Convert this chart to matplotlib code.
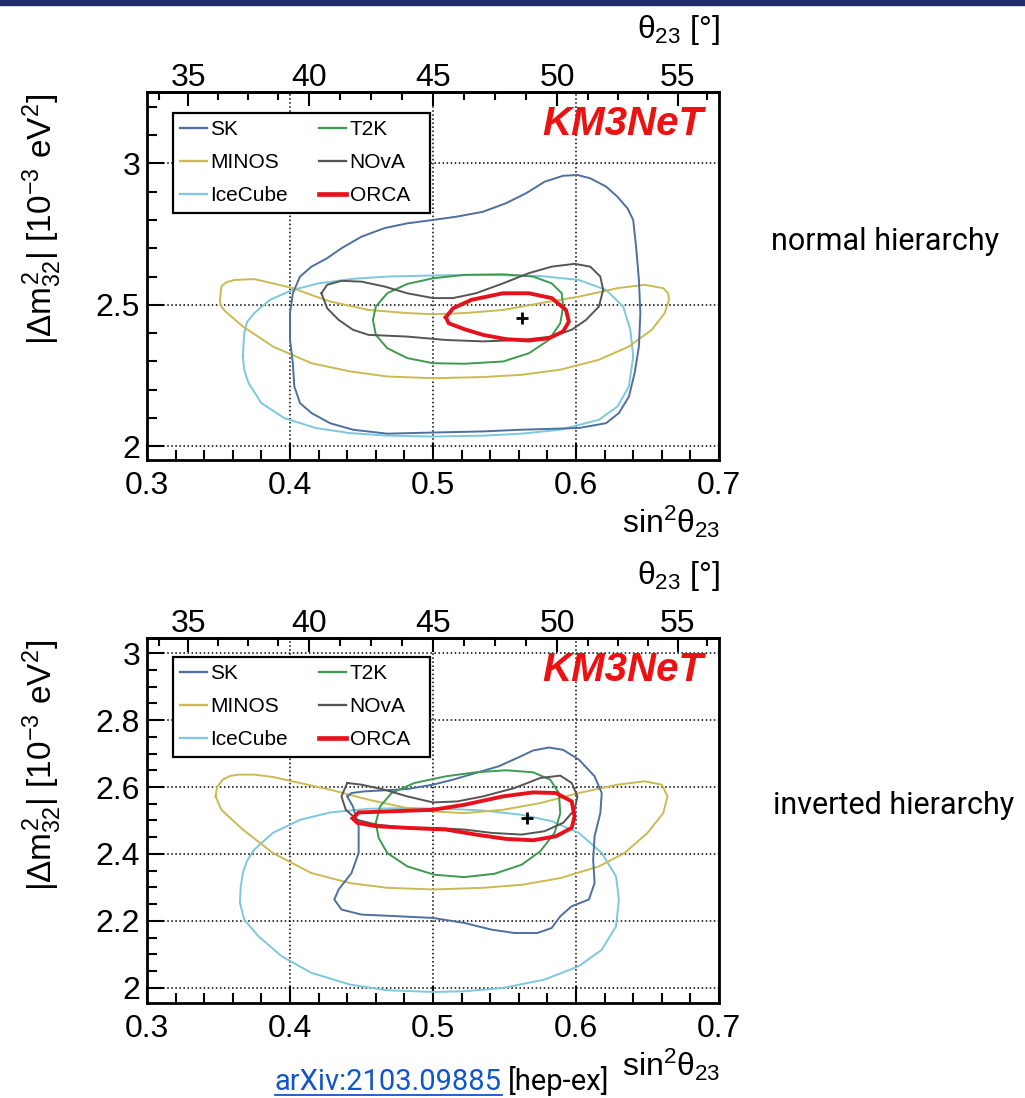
import numpy as np
import matplotlib
matplotlib.use('Agg')
import matplotlib.pyplot as plt
from matplotlib.lines import Line2D
from matplotlib.patches import Rectangle
from matplotlib.ticker import FixedLocator, MultipleLocator, FormatStrFormatter

plt.rcParams['font.family'] = 'Liberation Sans'
plt.rcParams['mathtext.fontset'] = 'custom'
plt.rcParams['mathtext.rm'] = 'Liberation Sans'
plt.rcParams['mathtext.it'] = 'Liberation Sans'
plt.rcParams['mathtext.bf'] = 'Liberation Sans:bold'

# ---- data: 90% CL contours, sin^2(theta23) vs |dm2_32| ----
names = ['SK', 'MINOS', 'IceCube', 'T2K', 'NOvA', 'ORCA']

# normal hierarchy
nh_sk_x = [0.400, 0.402, 0.407, 0.415, 0.426, 0.436, 0.450, 0.466, 0.482, 0.500, 0.517, 0.535, 0.551, 0.565,
           0.578, 0.591, 0.601, 0.610, 0.621, 0.629, 0.636, 0.640, 0.642, 0.644, 0.645, 0.644, 0.641, 0.637,
           0.630, 0.621, 0.602, 0.562, 0.535, 0.500, 0.468, 0.444, 0.428, 0.415, 0.407, 0.403, 0.402, 0.400]
nh_sk_y = [2.471, 2.541, 2.600, 2.635, 2.665, 2.700, 2.741, 2.771, 2.788, 2.800, 2.812, 2.829, 2.859, 2.894,
           2.935, 2.956, 2.959, 2.947, 2.918, 2.882, 2.841, 2.800, 2.706, 2.588, 2.471, 2.353, 2.259, 2.176,
           2.118, 2.082, 2.065, 2.059, 2.053, 2.049, 2.045, 2.059, 2.082, 2.118, 2.153, 2.212, 2.294, 2.376]
nh_minos_x = [0.351, 0.352, 0.3555, 0.361, 0.375, 0.388, 0.402, 0.415, 0.428, 0.455, 0.482, 0.500, 0.522,
              0.549, 0.575, 0.602, 0.629, 0.648, 0.661, 0.6645, 0.665, 0.662, 0.653, 0.637, 0.616, 0.589,
              0.562, 0.535, 0.500, 0.468, 0.442, 0.415, 0.388, 0.367, 0.355, 0.3515]
nh_minos_y = [2.518, 2.565, 2.580, 2.588, 2.591, 2.576, 2.559, 2.535, 2.512, 2.482, 2.471, 2.467, 2.471,
              2.482, 2.506, 2.529, 2.559, 2.571, 2.559, 2.540, 2.518, 2.471, 2.412, 2.353, 2.306, 2.271,
              2.253, 2.245, 2.241, 2.247, 2.265, 2.294, 2.353, 2.424, 2.476, 2.497]
nh_icecube_x = [0.367, 0.368, 0.370, 0.375, 0.386, 0.402, 0.420, 0.444, 0.468, 0.500, 0.535, 0.575, 0.602,
                0.621, 0.633, 0.638, 0.640, 0.637, 0.629, 0.616, 0.589, 0.562, 0.535, 0.500, 0.468, 0.442,
                0.418, 0.396, 0.380, 0.371, 0.368]
nh_icecube_y = [2.318, 2.400, 2.440, 2.471, 2.518, 2.553, 2.576, 2.592, 2.600, 2.604, 2.606, 2.602, 2.588,
                2.553, 2.494, 2.412, 2.318, 2.212, 2.141, 2.094, 2.059, 2.045, 2.038, 2.035, 2.038, 2.047,
                2.065, 2.100, 2.153, 2.224, 2.270]
nh_t2k_x = [0.458, 0.460, 0.468, 0.482, 0.500, 0.522, 0.549, 0.570, 0.583, 0.590, 0.591, 0.589, 0.581, 0.567,
            0.549, 0.522, 0.500, 0.482, 0.468, 0.460]
nh_t2k_y = [2.447, 2.494, 2.541, 2.574, 2.594, 2.606, 2.608, 2.600, 2.576, 2.541, 2.494, 2.435, 2.376, 2.329,
            2.300, 2.292, 2.294, 2.312, 2.347, 2.394]
nh_nova_x = [0.422, 0.426, 0.436, 0.450, 0.466, 0.482, 0.500, 0.514, 0.530, 0.549, 0.567, 0.583, 0.599, 0.610,
             0.617, 0.619, 0.616, 0.607, 0.597, 0.583, 0.562, 0.535, 0.509, 0.482, 0.455, 0.444, 0.434, 0.426]
nh_nova_y = [2.541, 2.571, 2.585, 2.582, 2.565, 2.541, 2.524, 2.524, 2.541, 2.576, 2.612, 2.635, 2.645, 2.635,
             2.600, 2.553, 2.494, 2.447, 2.412, 2.388, 2.376, 2.371, 2.376, 2.388, 2.394, 2.412, 2.447, 2.488]
nh_orca_x = [0.509, 0.514, 0.527, 0.549, 0.567, 0.583, 0.593, 0.595, 0.591, 0.581, 0.567, 0.551, 0.535, 0.522,
             0.511]
nh_orca_y = [2.456, 2.488, 2.518, 2.541, 2.541, 2.524, 2.482, 2.441, 2.406, 2.382, 2.374, 2.379, 2.394, 2.414,
             2.435]
nh_best = (0.562, 2.453)

# inverted hierarchy
ih_sk_x = [0.440, 0.444, 0.448, 0.448, 0.443, 0.434, 0.431, 0.436, 0.450, 0.476, 0.500, 0.522, 0.541, 0.557,
           0.573, 0.583, 0.589, 0.597, 0.609, 0.613, 0.612, 0.613, 0.617, 0.618, 0.613, 0.602, 0.591, 0.581,
           0.570, 0.559, 0.546, 0.530, 0.514, 0.500, 0.482, 0.466, 0.452, 0.443]
ih_sk_y = [2.572, 2.542, 2.483, 2.403, 2.343, 2.294, 2.264, 2.234, 2.219, 2.214, 2.209, 2.194, 2.174, 2.164,
           2.164, 2.179, 2.214, 2.244, 2.264, 2.313, 2.383, 2.453, 2.522, 2.582, 2.632, 2.682, 2.711, 2.718,
           2.709, 2.687, 2.662, 2.642, 2.622, 2.607, 2.594, 2.590, 2.587, 2.582]
ih_minos_x = [0.348, 0.349, 0.353, 0.358, 0.364, 0.375, 0.388, 0.407, 0.428, 0.455, 0.482, 0.500, 0.522,
              0.549, 0.575, 0.602, 0.629, 0.648, 0.660, 0.664, 0.661, 0.650, 0.634, 0.616, 0.589, 0.562,
              0.535, 0.500, 0.468, 0.442, 0.415, 0.388, 0.367, 0.352]
ih_minos_y = [2.572, 2.600, 2.622, 2.633, 2.637, 2.637, 2.630, 2.612, 2.592, 2.562, 2.537, 2.527, 2.522,
              2.532, 2.552, 2.582, 2.607, 2.617, 2.607, 2.572, 2.522, 2.463, 2.403, 2.363, 2.328, 2.308,
              2.299, 2.294, 2.299, 2.313, 2.343, 2.403, 2.473, 2.532]
ih_icecube_x = [0.365, 0.3655, 0.367, 0.370, 0.375, 0.388, 0.407, 0.428, 0.455, 0.482, 0.509, 0.535, 0.562,
                0.583, 0.602, 0.618, 0.628, 0.630, 0.628, 0.618, 0.602, 0.578, 0.549, 0.522, 0.500, 0.468,
                0.442, 0.415, 0.394, 0.378, 0.368]
ih_icecube_y = [2.254, 2.300, 2.343, 2.380, 2.413, 2.463, 2.502, 2.524, 2.535, 2.537, 2.535, 2.530, 2.517,
                2.498, 2.463, 2.403, 2.333, 2.264, 2.184, 2.114, 2.065, 2.025, 2.000, 1.990, 1.988, 1.993,
                2.010, 2.045, 2.095, 2.154, 2.204]
ih_t2k_x = [0.460, 0.463, 0.471, 0.487, 0.509, 0.530, 0.551, 0.570, 0.582, 0.588, 0.589, 0.585, 0.575, 0.562,
            0.543, 0.522, 0.501, 0.482, 0.468, 0.462]
ih_t2k_y = [2.493, 2.542, 2.582, 2.612, 2.632, 2.644, 2.650, 2.644, 2.622, 2.582, 2.522, 2.463, 2.408, 2.368,
            2.341, 2.331, 2.338, 2.363, 2.403, 2.448]
ih_nova_x = [0.440, 0.450, 0.466, 0.482, 0.500, 0.517, 0.535, 0.557, 0.575, 0.589, 0.597, 0.601, 0.599, 0.591,
             0.578, 0.562, 0.541, 0.522, 0.500, 0.482, 0.460, 0.447, 0.439, 0.436]
ih_nova_y = [2.612, 2.607, 2.592, 2.572, 2.554, 2.557, 2.572, 2.597, 2.627, 2.634, 2.612, 2.572, 2.532, 2.493,
             2.468, 2.458, 2.463, 2.473, 2.478, 2.478, 2.488, 2.502, 2.532, 2.572]
ih_orca_x = [0.444, 0.448, 0.468, 0.500, 0.522, 0.549, 0.570, 0.586, 0.597, 0.599, 0.597, 0.586, 0.570, 0.551,
             0.530, 0.509, 0.482, 0.460, 0.447]
ih_orca_y = [2.507, 2.524, 2.527, 2.532, 2.547, 2.572, 2.584, 2.582, 2.557, 2.512, 2.478, 2.453, 2.441, 2.445,
             2.458, 2.473, 2.478, 2.483, 2.493]
ih_best = (0.566, 2.507)

theta_ticks = [35, 40, 45, 50, 55]

colours = {'SK': '#4f6f9f', 'MINOS': '#c9bb52', 'IceCube': '#7cc8dc',
           'T2K': '#3d9a4f', 'NOvA': '#555555', 'ORCA': '#e8101a'}
widths = {'SK': 1.4, 'MINOS': 1.4, 'IceCube': 1.4, 'T2K': 1.4, 'NOvA': 1.4, 'ORCA': 2.8}
draw_order = ['IceCube', 'MINOS', 'SK', 'T2K', 'NOvA', 'ORCA']

W, H = 1025, 1098
TICK = 23
AX_L, AX_W = 147, 572


def to_deg(s):
    return np.degrees(np.arcsin(np.sqrt(np.clip(s, 0, 1))))


def to_sin2(d):
    return np.sin(np.radians(d)) ** 2


def draw_panel(ax, contours, best, ylim, ymajor, yminor, top_px, bot_px, leg_top_px, leg_bot_px):
    h_px = bot_px - top_px

    def fy(py):  # figure-pixel row -> axes fraction
        return (bot_px - py) / h_px

    for n in draw_order:
        x, y = contours[n]
        ax.plot(x + x[:1], y + y[:1], color=colours[n], lw=widths[n], solid_joinstyle='round')
    ax.plot(best[0], best[1], marker='+', color='k', ms=9, mew=2.0, ls='none')

    ax.set_xlim(0.3, 0.7)
    ax.set_ylim(*ylim)
    ax.xaxis.set_major_locator(MultipleLocator(0.1))
    ax.xaxis.set_minor_locator(MultipleLocator(0.02))
    ax.xaxis.set_major_formatter(FormatStrFormatter('%g'))
    ax.yaxis.set_major_locator(FixedLocator(ymajor))
    ax.yaxis.set_minor_locator(MultipleLocator(yminor))
    ax.yaxis.set_major_formatter(FormatStrFormatter('%g'))
    ax.tick_params(axis='x', which='both', direction='in', top=False, width=1.5)
    ax.tick_params(axis='y', which='both', direction='in', right=False, width=1.5)
    ax.tick_params(which='major', length=12, labelsize=TICK)
    ax.tick_params(which='minor', length=7)
    ax.tick_params(axis='x', which='major', pad=8)
    ax.tick_params(axis='y', which='major', pad=5)
    for sp in ax.spines.values():
        sp.set_linewidth(2)
    ax.grid(True, which='major', ls=':', color='k', lw=1.1)

    sec = ax.secondary_xaxis('top', functions=(to_deg, to_sin2))
    sec.set_xticks(theta_ticks)
    sec.xaxis.set_minor_locator(FixedLocator(np.arange(32.5, 58.0, 1.25)))
    sec.tick_params(which='major', direction='in', length=10, width=1.5, labelsize=TICK, pad=-1)
    sec.tick_params(which='minor', direction='in', length=6, width=1.5)
    sec.spines['top'].set_linewidth(2)

    # legend box (ROOT-style fixed frame) and entries
    ax.add_patch(Rectangle(((173 - AX_L) / AX_W, fy(leg_bot_px)), 257 / AX_W, fy(leg_top_px) - fy(leg_bot_px),
                           transform=ax.transAxes, facecolor='white', edgecolor='black', lw=1.6, zorder=4.5))
    handles = [Line2D([], [], color=colours[n], lw=widths[n] * 1.2, label=n) for n in names]
    ax.legend(handles=handles, ncol=2, loc='upper left', bbox_to_anchor=((173 - AX_L) / AX_W, fy(leg_top_px)),
              fontsize=15, frameon=False, handlelength=1.3, handletextpad=0.15, labelspacing=0.66,
              borderpad=0.35, borderaxespad=0, columnspacing=1.5)

    ax.text((542 - AX_L) / AX_W, fy(top_px + 32), 'KM3NeT', transform=ax.transAxes, color='#ee1111',
            fontsize=29, fontweight='bold', fontstyle='italic', ha='left', va='center')

    # axis titles (ROOT style, aligned to the axis ends)
    fig.text(720 / W, 1 - (top_px - 54) / H, r'$\theta_{23}$ [°]', ha='right', va='baseline', fontsize=TICK)
    fig.text(720 / W, 1 - (bot_px + 73) / H, r'sin$^{2}\theta_{23}$', ha='right', va='baseline',
             fontsize=TICK)
    fig.text(42 / W, 1 - (top_px + 2) / H, r'$|\Delta m^{2}_{32}|$ [10$^{-3}$ eV$^{2}$]', rotation=90,
             ha='center', va='top', fontsize=24)


fig = plt.figure(figsize=(W / 100, H / 100), dpi=100)
fig.patches.append(Rectangle((0, 1 - 5 / H), 1, 5 / H, transform=fig.transFigure, color='#1f2d6b'))

ax1 = fig.add_axes([AX_L / W, 1 - 460 / H, AX_W / W, 368 / H])
ax2 = fig.add_axes([AX_L / W, 1 - 1003 / H, AX_W / W, 365 / H])

nh = {'SK': (nh_sk_x, nh_sk_y), 'MINOS': (nh_minos_x, nh_minos_y), 'IceCube': (nh_icecube_x, nh_icecube_y),
      'T2K': (nh_t2k_x, nh_t2k_y), 'NOvA': (nh_nova_x, nh_nova_y), 'ORCA': (nh_orca_x, nh_orca_y)}
ih = {'SK': (ih_sk_x, ih_sk_y), 'MINOS': (ih_minos_x, ih_minos_y), 'IceCube': (ih_icecube_x, ih_icecube_y),
      'T2K': (ih_t2k_x, ih_t2k_y), 'NOvA': (ih_nova_x, ih_nova_y), 'ORCA': (ih_orca_x, ih_orca_y)}

draw_panel(ax1, nh, nh_best, (1.952, 3.252), [2.0, 2.5, 3.0], 0.1, 92, 460, 113, 213)
draw_panel(ax2, ih, ih_best, (1.955, 3.045), [2.0, 2.2, 2.4, 2.6, 2.8, 3.0], 0.05, 638, 1003, 657, 757)

fig.text(885 / W, 1 - 242 / H, 'normal hierarchy', family='Roboto', fontsize=22, ha='center', va='center')
fig.text(894 / W, 1 - 805 / H, 'inverted hierarchy', family='Roboto', fontsize=22, ha='center', va='center')

# caption with a link-style underline
link = fig.text(275 / W, 1 - 1090 / H, 'arXiv:2103.09885', family='Roboto', fontsize=21, color='#1155cc',
                ha='left', va='baseline')
fig.canvas.draw()
bb = link.get_window_extent(renderer=fig.canvas.get_renderer())
fig.add_artist(Line2D([bb.x0 / W, bb.x1 / W], [1 - 1095 / H, 1 - 1095 / H], color='#1155cc', lw=1.3))
fig.text(bb.x1 / W + 6 / W, 1 - 1090 / H, '[hep-ex]', family='Roboto', fontsize=21, color='black',
         ha='left', va='baseline')

fig.savefig('out.png', dpi=100)
